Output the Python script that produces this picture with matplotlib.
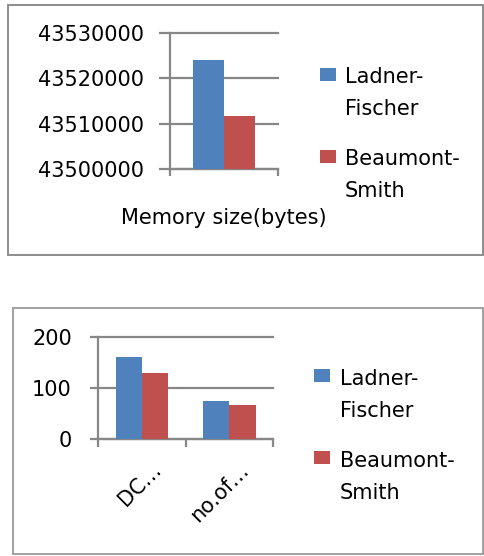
import matplotlib
matplotlib.use("Agg")
import matplotlib.pyplot as plt
import matplotlib.transforms as mtransforms
from matplotlib.patches import Rectangle
import numpy as np

# ---- data ----
series_names = ["Ladner-\nFischer", "Beaumont-\nSmith"]
series_colors = ["#4F81BD", "#C0504D"]
top_categories = ["Memory size(bytes)"]
top_ladner = [43524000]
top_beaumont = [43511700]
top_yticks = [43500000, 43510000, 43520000, 43530000]
bot_categories = ["DC…", "no.of…"]
bot_ladner = [160, 75]
bot_beaumont = [129, 67]
bot_yticks = [0, 100, 200]

W, H = 484, 556
DPI = 100
plt.rcParams["font.family"] = ["DejaVu Sans"]
FS = 15
GRAY = "#878787"
LINE_PITCH = 32

fig = plt.figure(figsize=(W / DPI, H / DPI), dpi=DPI)


def px_axes(x0, y0, x1, y1):
    return fig.add_axes([x0 / W, 1 - y1 / H, (x1 - x0) / W, (y1 - y0) / H])


def frame(x0, y0, x1, y1, color="#8c8c8c"):
    fig.patches.append(Rectangle((x0 / W, 1 - y1 / H), (x1 - x0) / W, (y1 - y0) / H,
                                 transform=fig.transFigure, fill=False,
                                 edgecolor=color, linewidth=1.4))


def style_axes(ax, ncat, ytick_len, ypad, xtick_len):
    for s in ["top", "right"]:
        ax.spines[s].set_visible(False)
    for s in ["left", "bottom"]:
        ax.spines[s].set_color(GRAY)
        ax.spines[s].set_linewidth(1.6)
    ax.grid(axis="y", color=GRAY, linewidth=1.6)
    ax.set_axisbelow(True)
    ax.set_xlim(-0.5, ncat - 0.5)
    ax.tick_params(axis="y", length=ytick_len, width=1.6, color=GRAY,
                   labelsize=FS, pad=ypad)
    ax.set_xticks(np.arange(ncat + 1) - 0.5)
    ax.set_xticklabels([])
    ax.tick_params(axis="x", which="major", length=xtick_len, width=1.6, color=GRAY)


def finish_grid(ax):
    for ln in ax.get_ygridlines():
        ln.set_clip_on(False)


def add_legend(sq_x, sq_top, text_x, baseline1, pitch):
    # legend drawn from the series names / colours
    for i, (name, col) in enumerate(zip(series_names, series_colors)):
        top = sq_top + i * pitch
        fig.patches.append(Rectangle((sq_x / W, 1 - (top + 13) / H), 16 / W, 13 / H,
                                     transform=fig.transFigure, facecolor=col,
                                     edgecolor="none"))
        nlines = name.count("\n")
        fig.text(text_x / W, 1 - (baseline1 + i * pitch + nlines * LINE_PITCH) / H,
                 name, fontsize=FS, va="baseline", ha="left", linespacing=1.77)


# ---- top chart ----
frame(8, 5, 483, 255)
ax1 = px_axes(170, 33, 278, 169)
style_axes(ax1, len(top_categories), 8.0, 10.5, 5.0)
x = np.arange(len(top_categories))
bw = 0.29
ax1.bar(x - bw / 2, top_ladner, bw, color=series_colors[0], zorder=3)
ax1.bar(x + bw / 2, top_beaumont, bw, color=series_colors[1], zorder=3)
ax1.set_ylim(top_yticks[0], top_yticks[-1])
ax1.set_yticks(top_yticks)
ax1.set_yticklabels([str(v) for v in top_yticks])
ax1.set_xticks(x, minor=True)
ax1.set_xticklabels(top_categories, minor=True)
ax1.tick_params(axis="x", which="minor", length=0, labelsize=FS, pad=28)
finish_grid(ax1)
add_legend(320, 68, 345, 83, 82)

# ---- bottom chart ----
frame(13, 308, 483, 554, color="#a0a0a0")
ax2 = px_axes(98, 337, 273, 439)
style_axes(ax2, len(bot_categories), 5.8, 13, 5.8)
x2 = np.arange(len(bot_categories))
bw2 = 0.30
ax2.bar(x2 - bw2 / 2, bot_ladner, bw2, color=series_colors[0], zorder=3)
ax2.bar(x2 + bw2 / 2, bot_beaumont, bw2, color=series_colors[1], zorder=3)
ax2.set_ylim(bot_yticks[0], bot_yticks[-1])
ax2.set_yticks(bot_yticks)
ax2.set_yticklabels([str(v) for v in bot_yticks])
ax2.set_xticks(x2, minor=True)
ax2.set_xticklabels(bot_categories, minor=True, rotation=45, ha="right",
                    va="center", rotation_mode="anchor")
ax2.tick_params(axis="x", which="minor", length=0, labelsize=FS, pad=20)
off = mtransforms.ScaledTranslation(16 / DPI, 0, fig.dpi_scale_trans)
for lbl in ax2.get_xticklabels(minor=True):
    lbl.set_transform(lbl.get_transform() + off)
finish_grid(ax2)
add_legend(314, 369, 340, 385, 82)

fig.savefig("out.png", dpi=DPI)
